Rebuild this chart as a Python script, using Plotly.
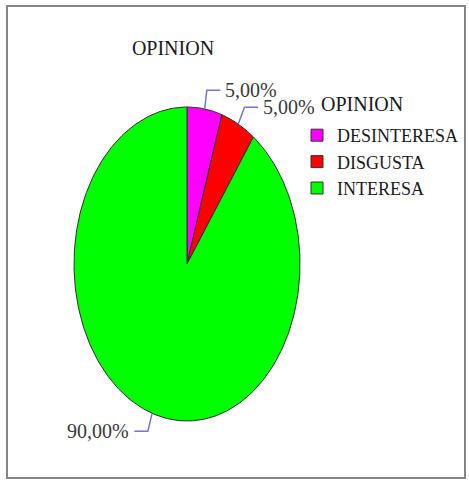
import math
import plotly.graph_objects as go

# ---- data ----
categories = ["DESINTERESA", "DISGUSTA", "INTERESA"]
values = [5.0, 5.0, 90.0]
labels_txt = ["5,00%", "5,00%", "90,00%"]
colors = ["#ff00ff", "#ff0000", "#00ff00"]
chart_title = "OPINION"
legend_title = "OPINION"

# ---- layout constants (pixels) ----
W, H = 469, 480
CX, CY = 187, 264      # pie centre
RX, RY = 113, 157      # ellipse radii
FONT = "'Liberation Serif', 'DejaVu Serif', 'Noto Serif', Tinos, FreeSerif, 'Times New Roman', Times, serif"

fig = go.Figure()

total = sum(values)
cum = 0.0
mids = []
for cat, v, col in zip(categories, values, colors):
    f0, f1 = cum / total, (cum + v) / total
    cum += v
    n = max(8, int(400 * (f1 - f0)))
    xs, ys = [0.0], [0.0]
    for i in range(n + 1):
        t = 2 * math.pi * (f0 + (f1 - f0) * i / n)
        xs.append(math.sin(t))
        ys.append(math.cos(t))
    xs.append(0.0)
    ys.append(0.0)
    fig.add_trace(go.Scatter(x=xs, y=ys, fill="toself", fillcolor=col,
                             mode="lines", line=dict(color="#2e2e2e", width=1),
                             showlegend=False, hoverinfo="skip", name=cat))
    mids.append(2 * math.pi * (f0 + f1) / 2)

# leader lines and labels
for ang, txt in zip(mids, labels_txt):
    sx, sy = math.sin(ang), math.cos(ang)
    ex, ey = 1.12 * sx, 1.12 * sy
    d = 0.12 if sx >= 0 else -0.12
    fx = ex + d
    fig.add_trace(go.Scatter(x=[sx, ex, fx], y=[sy, ey, ey], mode="lines",
                             line=dict(color="#7474d6", width=1.5),
                             showlegend=False, hoverinfo="skip"))
    fig.add_annotation(x=fx, y=ey, text=txt, showarrow=False,
                       xanchor="left" if sx >= 0 else "right", yanchor="middle",
                       xshift=3 if sx >= 0 else -3,
                       font=dict(family=FONT, size=20, color="#3a3a3a"))

# legend entries
for cat, col in zip(categories, colors):
    fig.add_trace(go.Scatter(x=[None], y=[None], mode="markers", name=cat,
                             marker=dict(symbol="square", size=12, color=col,
                                         line=dict(color="#333333", width=1))))

# legend heading
fig.add_annotation(xref="paper", yref="paper", x=319 / W, y=1 - 104 / H,
                   xanchor="left", yanchor="middle", showarrow=False,
                   text=legend_title, font=dict(family=FONT, size=20, color="#1a1a1a"))

fig.update_layout(
    width=W, height=H,
    margin=dict(l=0, r=0, t=0, b=0, autoexpand=False),
    paper_bgcolor="white", plot_bgcolor="white",
    xaxis=dict(visible=False, range=[-CX / RX, (W - CX) / RX], fixedrange=True),
    yaxis=dict(visible=False, range=[-(H - CY) / RY, CY / RY], fixedrange=True),
    title=dict(text=chart_title, x=173 / W, xanchor="center", y=1 - 48 / H,
               yanchor="middle", yref="container",
               font=dict(family=FONT, size=20, color="#1a1a1a")),
    legend=dict(x=297 / W, xanchor="left", y=1 - 117 / H, yanchor="top",
                font=dict(family=FONT, size=18, color="#1a1a1a"),
                bgcolor="rgba(0,0,0,0)", tracegroupgap=0),
    shapes=[dict(type="rect", xref="paper", yref="paper",
                 x0=7 / W, x1=465 / W, y0=1 - 478 / H, y1=1 - 6 / H,
                 line=dict(color="#858585", width=2), layer="above")],
)

fig.write_html("out.html")
